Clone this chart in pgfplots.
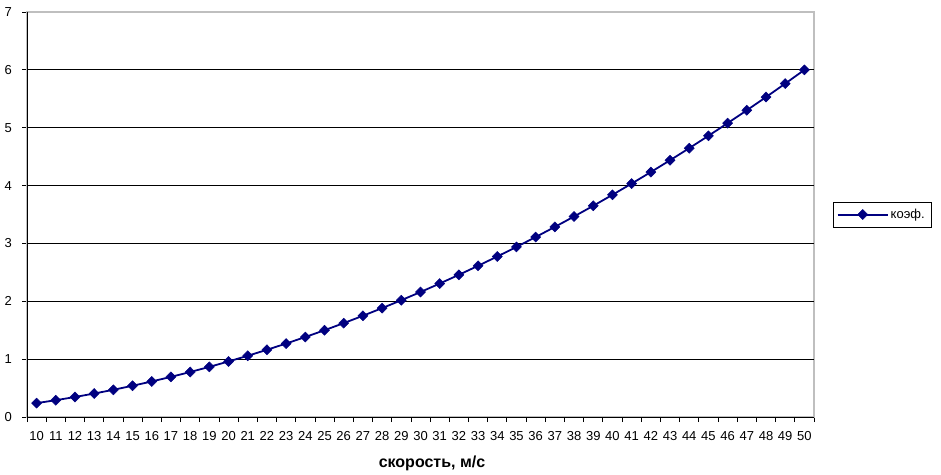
\documentclass[border=0pt]{standalone}
\usepackage{fontspec}
\setmainfont{Liberation Sans}
\usepackage{pgfplots}
\pgfplotsset{compat=1.18}
\definecolor{navyline}{HTML}{000080}
\begin{document}
\begin{tikzpicture}
\path[use as bounding box] (0,0) rectangle (941pt,474pt);
\begin{axis}[
  at={(27pt,57pt)}, anchor=south west,
  scale only axis, width=787pt, height=405pt,
  xmin=9.5, xmax=50.5, ymin=0, ymax=7,
  clip=false,
  /pgf/number format/assume math mode=true,
  font=\fontsize{13}{15}\selectfont,
  ticklabel style={font=\fontsize{13}{15}\selectfont},
  xtick={10,...,50},
  minor xtick={9.5,10.5,...,50.5},
  ytick={0,...,7},
  extra y ticks={1,...,6},
  extra y tick labels={},
  extra y tick style={grid=major, major tick length=0pt},
  major grid style={black, line width=0.8pt},
  tick align=outside,
  major tick length=5pt,
  minor tick length=5pt,
  major x tick style={draw=none},
  minor x tick style={black, line width=0.8pt},
  major y tick style={black, line width=0.8pt},
  xtick pos=bottom, ytick pos=left,
  axis line style={draw=gray!50, line width=1.6pt},
  xticklabel style={anchor=base, yshift=-18pt},
  yticklabel style={anchor=east, inner sep=0pt, xshift=-10pt},
  xlabel={\textbf{скорость, м/с}},
  xlabel style={font=\fontsize{16}{18}\selectfont, at={(rel axis cs:0.5,0)}, anchor=base, yshift=-50.7pt, xshift=11.5pt},
  legend style={at={(1.0235,0.50)}, anchor=west, draw=black,
    font=\fontsize{13}{15}\selectfont, inner xsep=4pt, inner ysep=5pt, row sep=0pt,
    legend cell align=left},
  legend image code/.code={\draw[#1, line width=2pt, mark repeat=2, mark phase=2] plot coordinates {(0pt,0pt) (25pt,0pt) (50pt,0pt)};},
]
\addplot[navyline, line width=1.8pt, mark=diamond*, mark size=5pt,
  mark options={fill=navyline, draw=navyline, line width=0.5pt, xscale=1.33}]
  coordinates {
  (10,0.24) (11,0.2904) (12,0.3456) (13,0.4056) (14,0.4704) (15,0.54)
  (16,0.6144) (17,0.6936) (18,0.7776) (19,0.8664) (20,0.96) (21,1.0584)
  (22,1.1616) (23,1.2696) (24,1.3824) (25,1.5) (26,1.6224) (27,1.7496)
  (28,1.8816) (29,2.0184) (30,2.16) (31,2.3064) (32,2.4576) (33,2.6136)
  (34,2.7744) (35,2.94) (36,3.1104) (37,3.2856) (38,3.4656) (39,3.6504)
  (40,3.84) (41,4.0344) (42,4.2336) (43,4.4376) (44,4.6464) (45,4.86)
  (46,5.0784) (47,5.3016) (48,5.5296) (49,5.7624) (50,6.0)
  };
\addlegendentry{коэф.}
\draw[black, line width=1pt] (rel axis cs:0,1) -- (rel axis cs:0,0) -- (rel axis cs:1,0);
\end{axis}
\end{tikzpicture}
\end{document}
